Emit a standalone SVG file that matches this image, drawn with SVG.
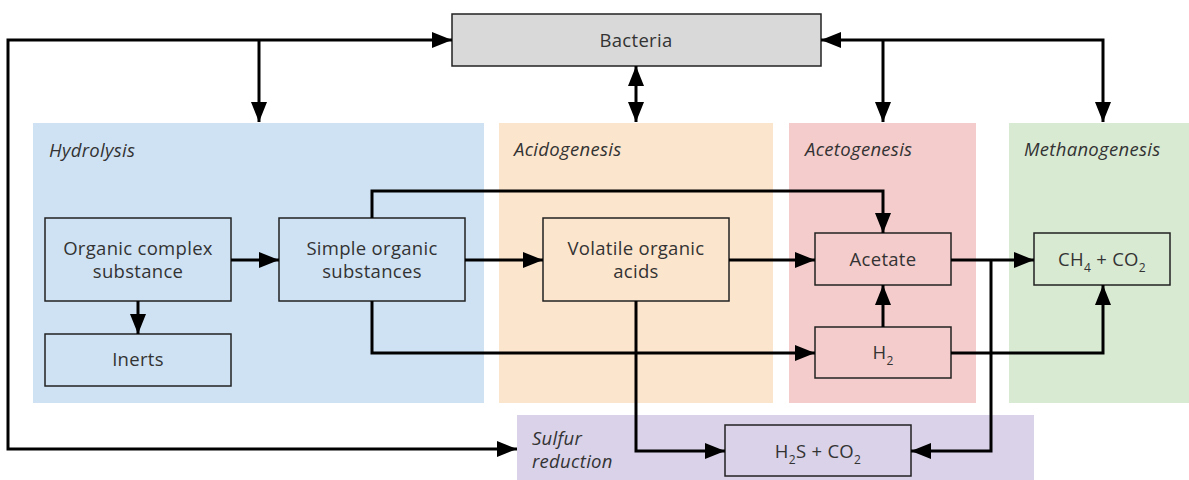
<svg xmlns="http://www.w3.org/2000/svg" width="1189" height="480" viewBox="0 0 1189 480">
<style>
.t{font-family:"Open Sans","Noto Sans",sans-serif;font-size:18.5px;fill:#333;letter-spacing:0.3px;}
.c{text-anchor:middle;}
.lbl{font-style:italic;}
.n{stroke:#222;stroke-width:1.5;}
.w{fill:none;stroke:#000;stroke-width:3;marker-end:url(#ah);}
.s{font-size:12px;}
</style>
<defs>
<marker id="ah" markerUnits="userSpaceOnUse" markerWidth="20" markerHeight="16" refX="20" refY="8" orient="auto-start-reverse" viewBox="0 0 20 16">
<path d="M0,0 L20,8 L0,16 z" fill="#000"/>
</marker>
</defs>
<g id="regions">
<g id="hydrolysis"><rect x="33" y="123" width="451" height="280" fill="#cfe2f3"/><text class="t lbl" x="49" y="157">Hydrolysis</text></g>
<g id="acidogenesis"><rect x="499" y="123" width="274" height="280" fill="#fce5cd"/><text class="t lbl" x="514" y="156">Acidogenesis</text></g>
<g id="acetogenesis"><rect x="789" y="123" width="187" height="280" fill="#f4cccc"/><text class="t lbl" x="805" y="156">Acetogenesis</text></g>
<g id="methanogenesis"><rect x="1009" y="123" width="180" height="280" fill="#d9ead3"/><text class="t lbl" x="1024" y="156">Methanogenesis</text></g>
<g id="sulfur"><rect x="517" y="415" width="517" height="65" fill="#d9d2e9"/><text class="t lbl" x="532" y="445">Sulfur</text><text class="t lbl" x="532" y="468">reduction</text></g>
</g>
<g id="bacteria"><rect class="n" x="452" y="14" width="369" height="52" fill="#d9d9d9"/><text class="t c" x="636" y="47">Bacteria</text></g>
<g id="organic"><rect class="n" x="45" y="218" width="186" height="83" fill="none"/><text class="t c" x="138" y="255">Organic complex</text><text class="t c" x="138" y="278">substance</text></g>
<g id="simple"><rect class="n" x="279" y="218" width="186" height="83" fill="none"/><text class="t c" x="372" y="255">Simple organic</text><text class="t c" x="372" y="278">substances</text></g>
<g id="inerts"><rect class="n" x="45" y="334" width="186" height="52" fill="none"/><text class="t c" x="138" y="366">Inerts</text></g>
<g id="volatile"><rect class="n" x="543" y="218" width="186" height="83" fill="none"/><text class="t c" x="636" y="255">Volatile organic</text><text class="t c" x="636" y="278">acids</text></g>
<g id="acetate"><rect class="n" x="815" y="233" width="136" height="52" fill="none"/><text class="t c" x="883" y="266">Acetate</text></g>
<g id="h2"><rect class="n" x="815" y="327" width="136" height="51" fill="none"/><text class="t c" x="883" y="359">H<tspan class="s" dy="6">2</tspan></text></g>
<g id="ch4"><rect class="n" x="1034" y="233" width="136" height="52" fill="none"/><text class="t c" x="1102" y="266">CH<tspan class="s" dy="6">4</tspan><tspan dy="-6"> + CO</tspan><tspan class="s" dy="6">2</tspan></text></g>
<g id="h2s"><rect class="n" x="725" y="425" width="186" height="51" fill="none"/><text class="t c" x="818" y="458">H<tspan class="s" dy="6">2</tspan><tspan dy="-6">S + CO</tspan><tspan class="s" dy="6">2</tspan></text></g>
<g id="connectors">
<path class="w" d="M259,40 L452,40"/>
<path class="w" d="M259,40 L8,40 L8,449 L517,449"/>
<path class="w" d="M259,40 L259,122"/>
<path class="w" d="M883,40 L821,40"/>
<path class="w" d="M883,40 L1103,40 L1103,122"/>
<path class="w" d="M883,40 L883,122"/>
<path class="w" d="M636,66 L636,122" marker-start="url(#ah)"/>
<path class="w" d="M231,260 L279,260"/>
<path class="w" d="M465,260 L543,260"/>
<path class="w" d="M729,260 L815,260"/>
<path class="w" d="M138,301 L138,334"/>
<path class="w" d="M372,218 L372,191 L883,191 L883,233"/>
<path class="w" d="M372,301 L372,353 L815,353"/>
<path class="w" d="M883,327 L883,285"/>
<path class="w" d="M951,260 L1034,260"/>
<path class="w" d="M991,260 L991,451 L911,451"/>
<path class="w" d="M951,353 L1103,353 L1103,285"/>
<path class="w" d="M636,301 L636,451 L725,451"/>
</g>
</svg>
